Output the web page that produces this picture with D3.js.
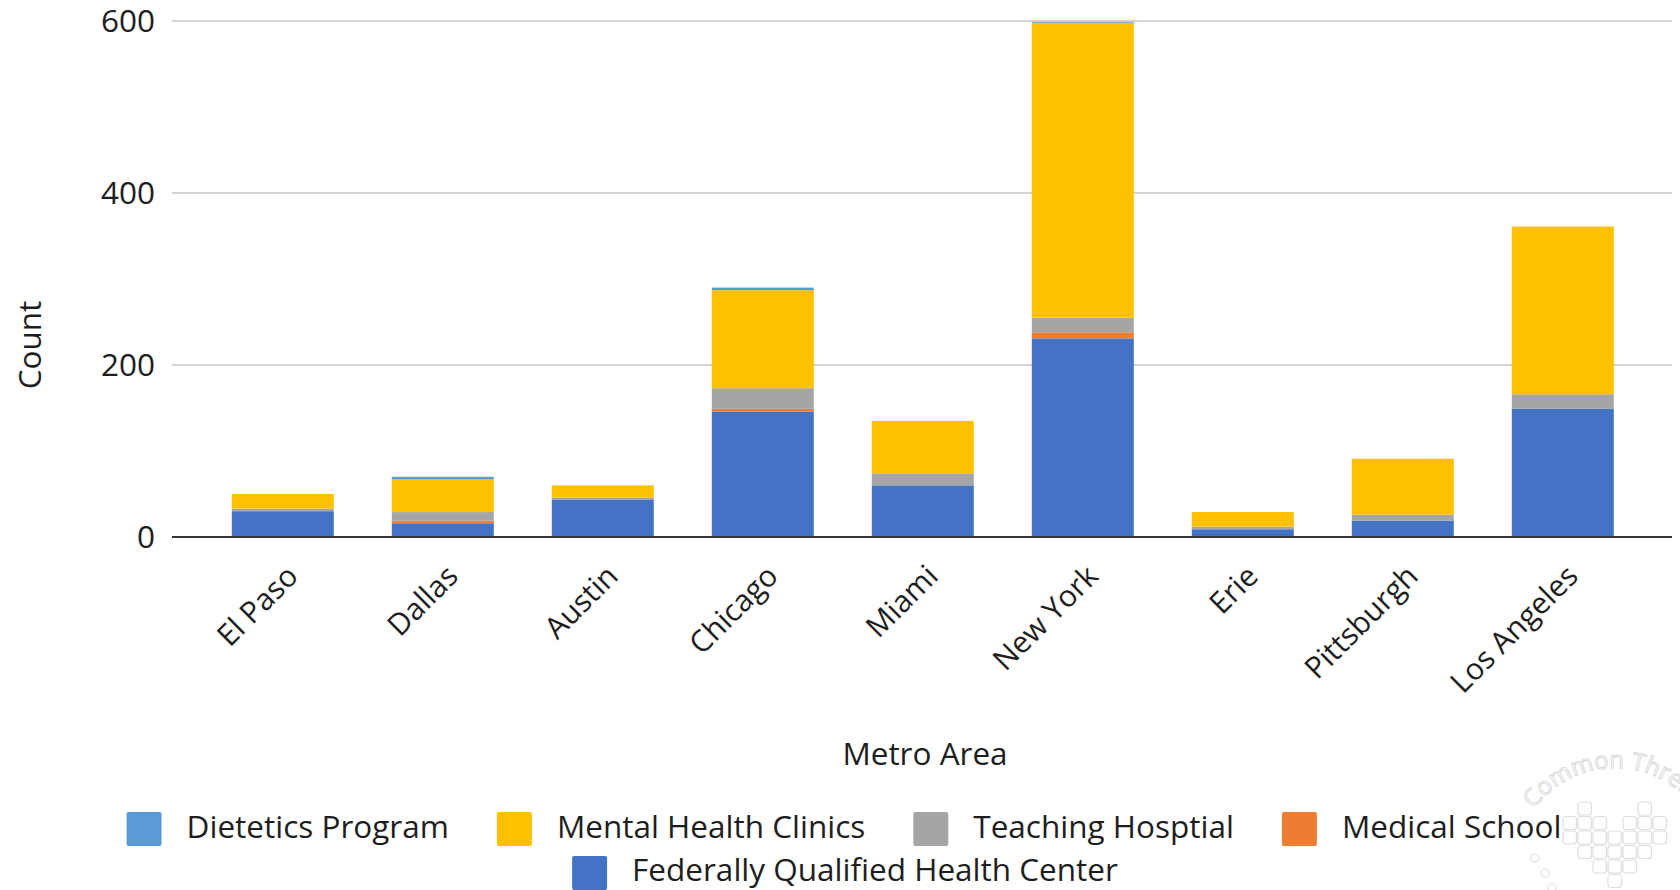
<!DOCTYPE html>
<html>
<head>
<meta charset="utf-8">
<script src="https://cdn.jsdelivr.net/npm/d3@7"></script>
<style>
  html, body { margin: 0; padding: 0; background: #ffffff; }
  svg { display: block; font-family: "Open Sans", sans-serif; }
</style>
</head>
<body>
<svg id="chart" width="1680" height="890"></svg>
<script>
// ---- data ----
const categories = ["El Paso", "Dallas", "Austin", "Chicago", "Miami", "New York", "Erie", "Pittsburgh", "Los Angeles"];
const fqhc = [30, 16, 43, 146, 60, 231, 9, 19, 149];
const medicalSchool = [0, 3, 0, 3, 0, 7, 0, 0, 0];
const teachingHospital = [3, 10, 3, 24, 14, 17, 3, 7, 17];
const mentalHealthClinics = [17, 38, 14, 114, 61, 343, 17, 65, 195];
const dieteticsProgram = [0, 3, 0, 3, 0, 1, 0, 0, 0];
const yTicks = [0, 200, 400, 600];
const seriesNames = ["Federally Qualified Health Center", "Medical School", "Teaching Hosptial", "Mental Health Clinics", "Dietetics Program"];
const legendOrder = ["Dietetics Program", "Mental Health Clinics", "Teaching Hosptial", "Medical School", "Federally Qualified Health Center"];
const xTitle = "Metro Area";
const yTitle = "Count";

// ---- build table ----
const seriesValues = [fqhc, medicalSchool, teachingHospital, mentalHealthClinics, dieteticsProgram];
const table = categories.map((c, i) => {
  const row = { category: c };
  seriesNames.forEach((s, j) => { row[s] = seriesValues[j][i]; });
  return row;
});
const colors = {
  "Federally Qualified Health Center": "#4472C4",
  "Medical School": "#ED7D31",
  "Teaching Hosptial": "#A5A5A5",
  "Mental Health Clinics": "#FFC000",
  "Dietetics Program": "#5B9BD5"
};

const FS = 31.5;
const TXT = "#1e1e1e";
const svg = d3.select("#chart");
const gridLeft = 172, gridRight = 1672;

const x = d3.scaleBand().domain(categories).range([202.8, 1642.8]).paddingInner(0.3625).paddingOuter(0.18125);
const y = d3.scaleLinear().domain([0, 600]).range([537, 21]);

// gridlines
svg.append("g").selectAll("line").data(yTicks.filter(t => t > 0)).join("line")
  .attr("x1", gridLeft).attr("x2", gridRight)
  .attr("y1", d => y(d)).attr("y2", d => y(d))
  .attr("stroke", "#D3D3D3").attr("stroke-width", 2);

// y tick labels via axis
const yAxis = svg.append("g").attr("transform", `translate(${gridLeft},0)`)
  .call(d3.axisLeft(y).tickValues(yTicks).tickSize(0).tickPadding(17).tickFormat(d3.format("d")));
yAxis.select(".domain").remove();
yAxis.selectAll("text").attr("font-size", FS).attr("fill", TXT).attr("font-family", "Open Sans");

// stacked bars
const stack = d3.stack().keys(seriesNames)(table);
svg.append("g").selectAll("g").data(stack).join("g")
  .attr("fill", d => colors[d.key])
  .selectAll("rect").data(d => d).join("rect")
  .attr("x", d => x(d.data.category))
  .attr("width", x.bandwidth())
  .attr("y", d => y(d[1]))
  .attr("height", d => Math.max(0, y(d[0]) - y(d[1])));

// baseline (x axis)
const xAxis = svg.append("g").attr("transform", `translate(0,${y(0)})`)
  .call(d3.axisBottom(x).tickSize(0).tickFormat(d => d));
xAxis.select(".domain").remove();
svg.append("line").attr("x1", gridLeft).attr("x2", gridRight)
  .attr("y1", y(0)).attr("y2", y(0)).attr("stroke", "#333").attr("stroke-width", 2.2);
xAxis.selectAll(".tick text")
  .attr("font-size", 30).attr("fill", TXT).attr("font-family", "Open Sans")
  .attr("text-anchor", "end")
  .attr("dy", 0).attr("y", 0)
  .attr("transform", "translate(17,41) rotate(-45)");

// axis titles
svg.append("text").attr("x", 925).attr("y", 765).attr("text-anchor", "middle")
  .attr("font-size", FS).attr("fill", TXT).text(xTitle);
svg.append("text").attr("transform", "translate(41,345) rotate(-90)").attr("text-anchor", "middle")
  .attr("font-size", FS).attr("fill", TXT).text(yTitle);

// faint watermark (bottom-right), drawn under legend
const wm = svg.append("g").attr("fill", "none").attr("stroke", "#dedede").attr("stroke-width", 1.2);
const heart = [[1,5],[0,1,2,4,5,6],[0,1,2,3,4,5,6],[1,2,3,4,5],[2,3,4],[3]];
heart.forEach((cols, r) => cols.forEach(c => {
  wm.append("rect").attr("x", 1563 + c * 15).attr("y", 802 + r * 14.5)
    .attr("width", 13.5).attr("height", 13).attr("rx", 3);
}));
[[1535, 858], [1545, 873], [1552, 888]].forEach(p => {
  wm.append("circle").attr("cx", p[0]).attr("cy", p[1]).attr("r", 4);
});
const arcPath = d3.path();
arcPath.arc(1615, 868, 100, Math.PI * 1.2, Math.PI * 1.95);
svg.append("defs").append("path").attr("id", "wmArc").attr("d", arcPath.toString());
svg.append("text").attr("font-size", 24).attr("fill", "none").attr("stroke", "#d6d6d6").attr("stroke-width", 0.9)
  .append("textPath").attr("href", "#wmArc").text("Common Thread");

// legend
const legend = svg.append("g");
const row1 = legendOrder.slice(0, 4), row2 = legendOrder.slice(4);
function drawRow(items, baseline, swatchTop, centerX) {
  const g = legend.append("g");
  let cx = 0;
  items.forEach((name) => {
    const it = g.append("g").attr("transform", `translate(${cx},0)`);
    it.append("rect").attr("x", 0).attr("y", swatchTop).attr("width", 35).attr("height", 34)
      .attr("rx", 2).attr("fill", colors[name]);
    const t = it.append("text").attr("x", 60).attr("y", baseline)
      .attr("font-size", FS).attr("fill", TXT).text(name);
    const w = t.node().getComputedTextLength();
    cx += 60 + w + 48;
  });
  const total = cx - 48;
  g.attr("transform", `translate(${centerX - total / 2},0)`);
}
drawRow(row1, 838, 812, 844);
drawRow(row2, 881, 856, 845);
</script>
</body>
</html>
